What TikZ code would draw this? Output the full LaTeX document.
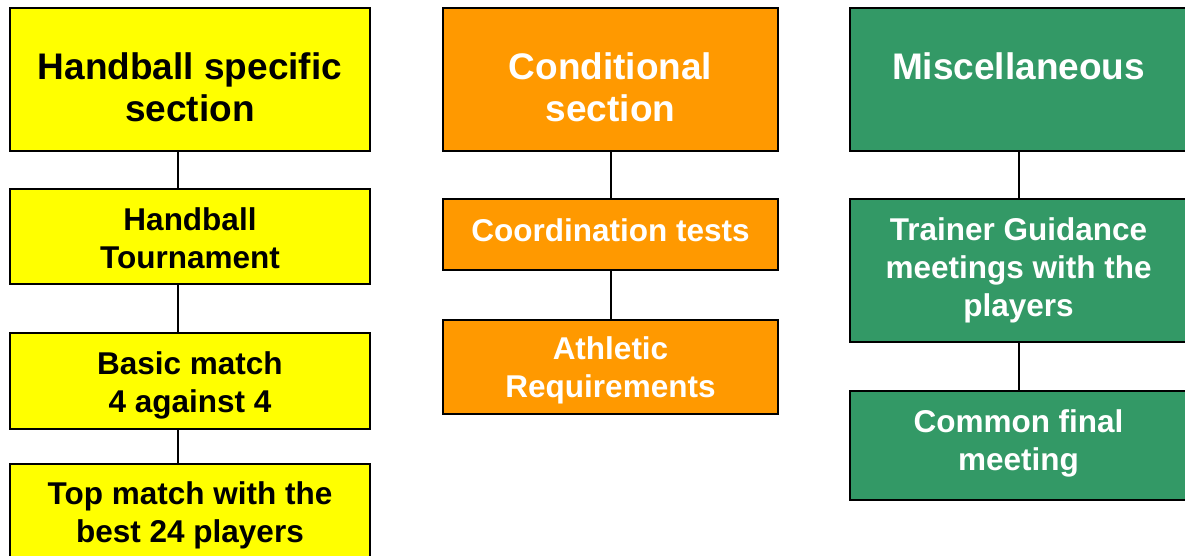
\documentclass[tikz,border=0pt]{standalone}
\usepackage{fontspec}
\setmainfont{Liberation Sans}
\definecolor{cyellow}{HTML}{FFFF00}
\definecolor{corange}{HTML}{FF9900}
\definecolor{cgreen}{HTML}{339966}
\begin{document}
\begin{tikzpicture}[x=1pt,y=-1pt,
  box/.style={draw=black,line width=2pt,rectangle,inner sep=0pt},
  txt/.style={inner sep=0pt,align=center,font=\bfseries\fontsize{31.5}{38}\selectfont},
  ttxt/.style={inner sep=0pt,align=center,font=\bfseries\fontsize{37}{42}\selectfont},
  ybox/.style={box,fill=cyellow},
  obox/.style={box,fill=corange},
  gbox/.style={box,fill=cgreen},
  link/.style={draw=black,line width=2pt}]
\useasboundingbox (0,0) rectangle (1185,555);
% column 1
\node[ybox,minimum width=360pt,minimum height=143pt] (a1) at (190,79.5) {};
\node[ttxt,text=black] (a1t) at (190,87.5) {Handball specific\\section};
\node[ybox,minimum width=360pt,minimum height=95pt] (a2) at (190,236.5) {};
\node[txt,text=black] (a2t) at (190,238.5) {Handball\\Tournament};
\node[ybox,minimum width=360pt,minimum height=96pt] (a3) at (190,381) {};
\node[txt,text=black] (a3t) at (190,385) {Basic match\\4 against 4};
\node[ybox,minimum width=360pt,minimum height=98pt,anchor=north] (a4) at (190,463) {};
\node[txt,text=black] (a4t) at (190,515) {Top match with the\\best 24 players};
% column 2
\node[obox,minimum width=335pt,minimum height=143pt] (b1) at (610.5,79.5) {};
\node[ttxt,text=white] (b1t) at (610.5,87.5) {Conditional\\section};
\node[obox,minimum width=335pt,minimum height=71pt] (b2) at (610.5,234.5) {};
\node[txt,text=white] (b2t) at (610.5,230.5) {Coordination tests};
\node[obox,minimum width=335pt,minimum height=94pt] (b3) at (610.5,367) {};
\node[txt,text=white] (b3t) at (610.5,370) {Athletic\\Requirements};
% column 3
\node[gbox,minimum width=337pt,minimum height=143pt] (c1) at (1018.5,79.5) {};
\node[ttxt,text=white] (c1t) at (1018.5,93.5) {Miscellaneous\\\strut};
\node[gbox,minimum width=337pt,minimum height=143pt] (c2) at (1018.5,270.5) {};
\node[txt,text=white] (c2t) at (1018.5,270.5) {Trainer Guidance\\meetings with the\\players};
\node[gbox,minimum width=337pt,minimum height=109pt] (c3) at (1018.5,445.5) {};
\node[txt,text=white] (c3t) at (1018.5,443.5) {Common final\\meeting};
% connectors
\draw[link] ([xshift=-12pt]a1.south) -- ([xshift=-12pt]a2.north);
\draw[link] ([xshift=-12pt]a2.south) -- ([xshift=-12pt]a3.north);
\draw[link] ([xshift=-12pt]a3.south) -- ([xshift=-12pt]a4.north);
\draw[link] (b1.south) -- (b2.north);
\draw[link] (b2.south) -- (b3.north);
\draw[link] (c1.south) -- (c2.north);
\draw[link] (c2.south) -- (c3.north);
\end{tikzpicture}
\end{document}
